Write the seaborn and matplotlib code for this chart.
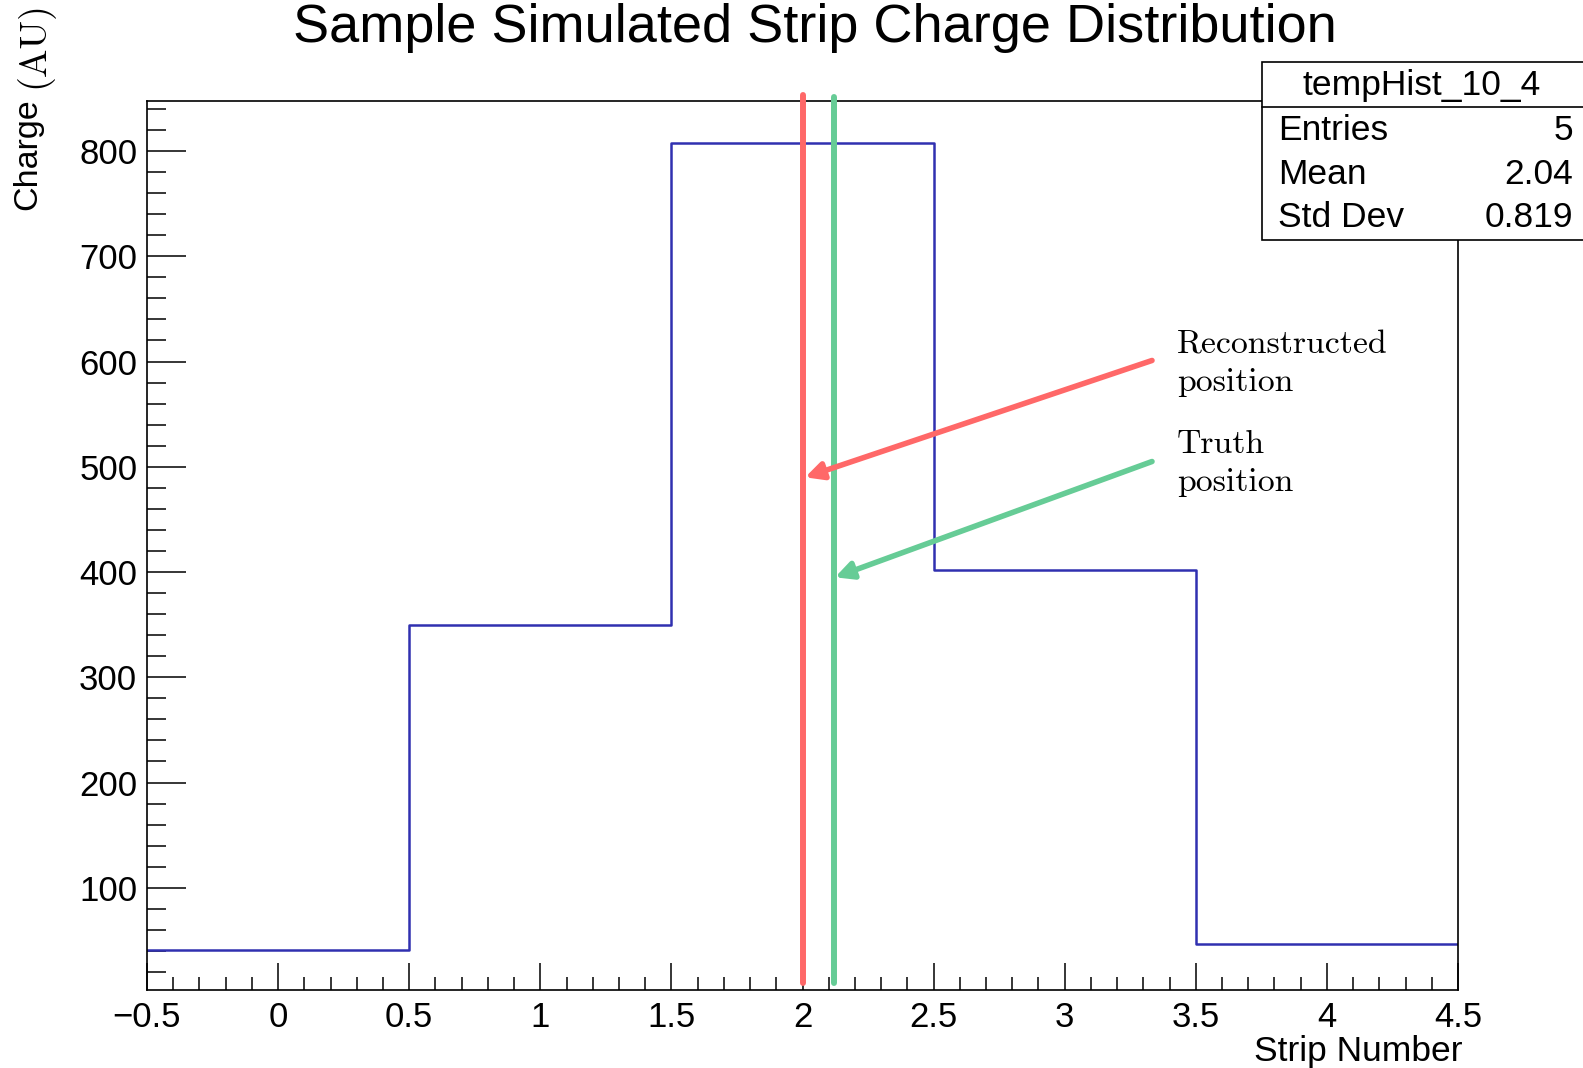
import numpy as np
import pandas as pd
import matplotlib
matplotlib.use("Agg")
import matplotlib.pyplot as plt
import seaborn as sns
from matplotlib.ticker import MultipleLocator
from matplotlib.patches import Rectangle

# Histogram data (one bin per strip)
strips = [0, 1, 2, 3, 4]
charges = [41, 350, 808, 402, 47]
bin_edges = [-0.5, 0.5, 1.5, 2.5, 3.5, 4.5]

# Reconstructed vs truth positions
reco_pos = 2.0
truth_pos = 2.12

# Annotation arrows: (text x, text y) -> (tip x, tip y)
reco_arrow = [(3.333, 601), (2.01, 490)]
truth_arrow = [(3.333, 505), (2.124, 395)]

# Stats box
stats_name = "tempHist_10_4"
stats_labels = ["Entries", "Mean", "Std Dev"]
stats_values = ["5", "2.04", "0.819"]

RED = "#ff6868"
GREEN = "#66cc96"
BLUE = "#3030b0"

sns.set_theme(style="white", rc={"text.color": "black", "axes.labelcolor": "black",
                                 "xtick.color": "black", "ytick.color": "black"})
plt.rcParams["font.family"] = ["Liberation Sans", "DejaVu Sans"]

W, H = 1583, 1068
fig = plt.figure(figsize=(W / 100, H / 100), dpi=100)
ax = fig.add_axes([147 / W, 1 - 990 / H, (1458 - 147) / W, (990 - 100.5) / H])

df = pd.DataFrame({"strip": strips, "charge": charges})
sns.histplot(data=df, x="strip", weights="charge", bins=bin_edges,
             element="step", fill=False, color=BLUE, linewidth=1.8, ax=ax)

ax.set_xlim(-0.5, 4.5)
ax.set_ylim(2.9, 848)

# vertical markers for reconstructed / truth position
ax.axvline(reco_pos, ymin=0.008, ymax=1.006, color=RED, lw=4.3, clip_on=False, zorder=5)
ax.axvline(truth_pos, ymin=0.008, ymax=1.004, color=GREEN, lw=4.3, clip_on=False, zorder=5)

arrow_kw = dict(arrowstyle="-|>", lw=4.0, mutation_scale=26, shrinkA=0, shrinkB=0)
ax.annotate("", xy=reco_arrow[1], xytext=reco_arrow[0],
            arrowprops=dict(color=RED, **arrow_kw), zorder=6)
ax.annotate("", xy=truth_arrow[1], xytext=truth_arrow[0],
            arrowprops=dict(color=GREEN, **arrow_kw), zorder=6)

# baseline of the last line is used for multi-line text
ax.text(3.428, 572, "Reconstructed\nposition", family="cmr10", fontsize=24.3,
        va="baseline", ha="left", linespacing=1.38)
ax.text(3.428, 477, "Truth\nposition", family="cmr10", fontsize=24.3,
        va="baseline", ha="left", linespacing=1.38)

# ROOT-like axes
ax.xaxis.set_major_locator(MultipleLocator(0.5))
ax.xaxis.set_minor_locator(MultipleLocator(0.1))
ax.yaxis.set_major_locator(MultipleLocator(100))
ax.yaxis.set_minor_locator(MultipleLocator(20))
ax.xaxis.set_major_formatter(plt.FuncFormatter(lambda v, p: f"{v:g}".replace("-", "\u2212")))
ax.tick_params(axis="x", which="major", direction="in", length=19.5, width=1.1,
               labelsize=25, pad=8, bottom=True, top=False)
ax.tick_params(axis="x", which="minor", direction="in", length=9.5, width=1.1,
               bottom=True, top=False)
ax.tick_params(axis="y", which="major", direction="in", length=28, width=1.1,
               labelsize=25, pad=7, left=True, right=False)
ax.tick_params(axis="y", which="minor", direction="in", length=14, width=1.1,
               left=True, right=False)
for s in ax.spines.values():
    s.set_color("black")
    s.set_linewidth(1.2)
ax.set_xlabel("")
ax.set_ylabel("")

fig.text(1462 / W, 1 - 1061 / H, "Strip Number", fontsize=25.5, ha="right", va="baseline")
fig.text(12 / W, 1 - 98 / H, "Charge", fontsize=24.5, rotation=90, ha="left", va="top")
fig.text(14 / W, 1 - 1 / H, "(AU)", family="cmr10", fontsize=27.5, rotation=90,
         ha="left", va="top")
fig.text(293 / W, 1 - 42 / H, "Sample Simulated Strip Charge Distribution",
         fontsize=39, ha="left", va="baseline")

# stats box
bx0, by0, by1 = 1262 / W, 1 - 240 / H, 1 - 62 / H
fig.add_artist(Rectangle((bx0, by0), 1.01 - bx0, by1 - by0, transform=fig.transFigure,
                         fc="white", ec="black", lw=1.2, zorder=10))
fig.add_artist(plt.Line2D([bx0, 1.0], [1 - 107 / H] * 2, transform=fig.transFigure,
                          color="black", lw=1.2, zorder=11))
fig.text(1422 / W, 1 - 95 / H, stats_name, fontsize=25.5, ha="center", va="baseline", zorder=12)
for i, (lab, val) in enumerate(zip(stats_labels, stats_values)):
    yy = 1 - (140 + 43.5 * i) / H
    fig.text(1278 / W, yy, lab, fontsize=25.5, ha="left", va="baseline", zorder=12)
    fig.text(1573 / W, yy, val, fontsize=25.5, ha="right", va="baseline", zorder=12)

fig.savefig("out.png", dpi=100, facecolor="white")
